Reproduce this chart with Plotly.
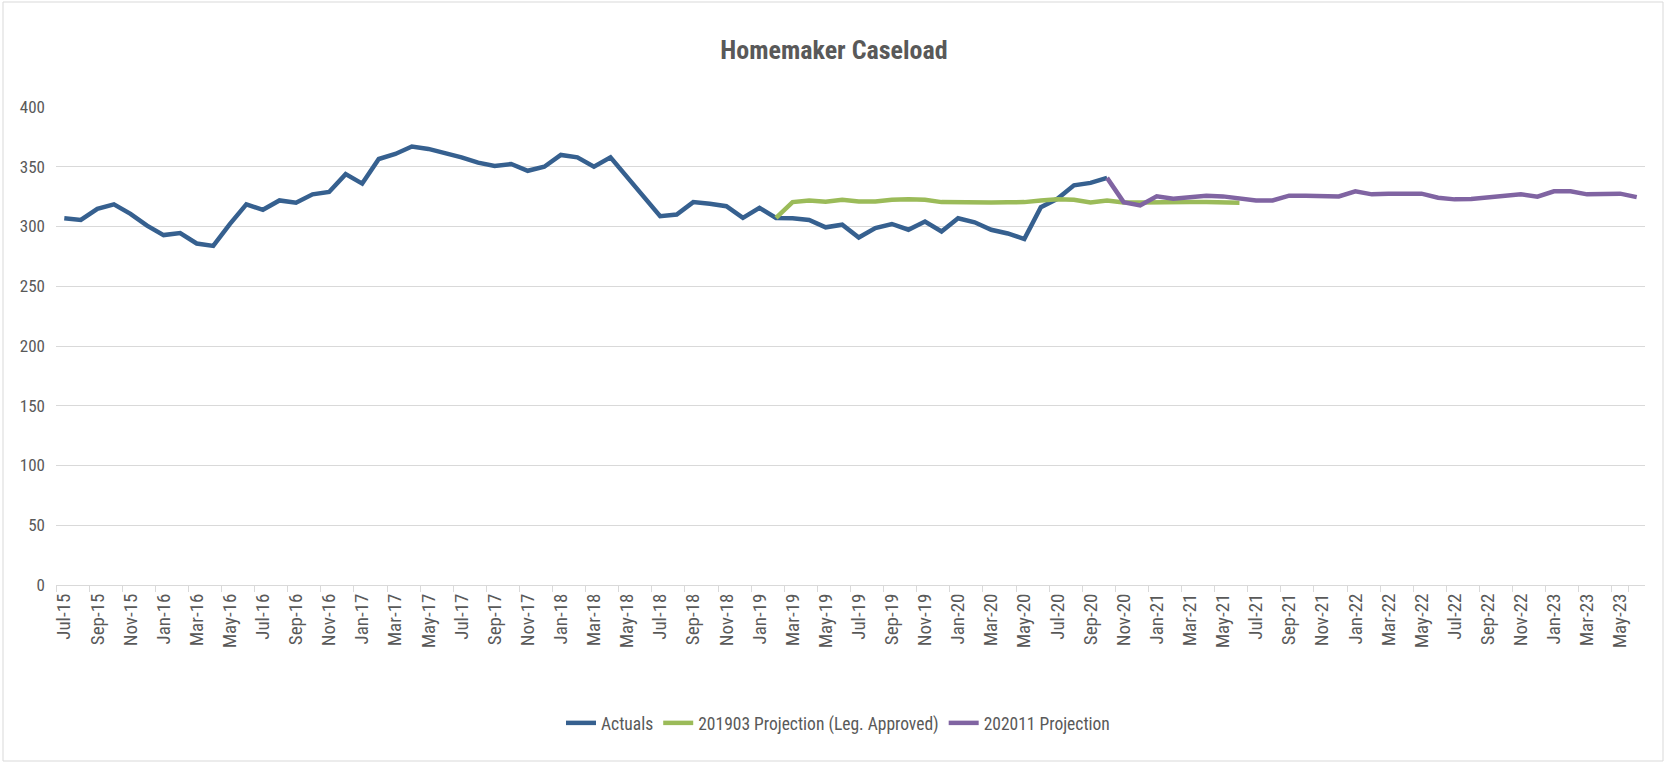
import pandas as pd
import plotly.graph_objects as go

# ---- data ----
months = pd.date_range("2015-07-01", periods=96, freq="MS").strftime("%b-%y").tolist()

actuals = [307, 305.5, 314.8, 318.5, 310.6, 300.7, 292.8, 294.5, 285.8, 283.8,
           302, 318.5, 314, 321.8, 319.9, 326.9, 328.9, 343.8, 335.9, 356.5,
           360.7, 366.9, 364.9, 361.8, 357.9, 353.4, 350.6, 352.3, 346.6, 350,
           359.9, 357.9, 350, 357.9, 341.5, 324.1, 308.6, 310, 320.4, 319,
           317, 307.2, 315.6, 307.2, 307, 305.5, 299.3, 301.5, 290.8, 298.7,
           302.1, 297.3, 304.1, 295.9, 306.9, 303.5, 297.3, 294.2, 289.5, 316.2,
           323.2, 334.5, 336.5, 340.7]

proj_201903 = [307.2, 320.4, 321.8, 320.7, 322.4, 321, 321, 322.4, 322.7, 322.4,
               320.4, 320.1, 320.1, 320.1, 320.3, 320.4, 321.8, 322.7, 322.4, 320.1,
               321.8, 320.1, 320, 320.4, 320.4, 320.4, 320.4, 320.4, 319.9]
proj_201903_start = 43

proj_202011 = [340.7, 320.4, 317.6, 325.2, 323.2, 324.6, 325.8, 325.2, 323.2, 321.8,
               321.8, 325.8, 325.8, 325.8, 325.2, 329.4, 326.9, 327.5, 327.7, 327.5,
               324.1, 322.7, 323, 324.6, 325.8, 326.9, 324.9, 329.4, 329.4, 326.9,
               327.2, 327.5, 324.6]
proj_202011_start = 63

y_ticks = [0, 50, 100, 150, 200, 250, 300, 350, 400]

# ---- layout constants ----
W, H = 1667, 763
ML, MR, MT, MB = 56, 22, 107, 178
FONT = "Liberation Sans Narrow, Arial Narrow, Roboto Condensed, sans-serif"
GRAY = "#595959"
GRID = "#d9d9d9"

fig = go.Figure()
fig.add_trace(go.Scatter(x=months[:len(actuals)], y=actuals, mode="lines",
                         name="Actuals", line=dict(color="#36608F", width=4.5)))
fig.add_trace(go.Scatter(x=months[proj_201903_start:proj_201903_start + len(proj_201903)],
                         y=proj_201903, mode="lines",
                         name="201903 Projection (Leg. Approved)",
                         line=dict(color="#9BBB59", width=4.5)))
fig.add_trace(go.Scatter(x=months[proj_202011_start:proj_202011_start + len(proj_202011)],
                         y=proj_202011, mode="lines",
                         name="202011 Projection",
                         line=dict(color="#8064A2", width=4.5)))

pw = W - ML - MR
ph = H - MT - MB
fig.add_shape(type="rect", xref="paper", yref="paper",
              x0=(3 - ML) / pw, x1=(1663 - ML) / pw,
              y0=-(H - 2 - (H - MB)) / ph, y1=1 + (MT - 2) / ph,
              line=dict(color=GRID, width=1), layer="below")

fig.update_layout(
    width=W, height=H,
    margin=dict(l=ML, r=MR, t=MT, b=MB, autoexpand=False),
    paper_bgcolor="white", plot_bgcolor="white",
    title=dict(text="<b>Homemaker Caseload</b>", x=834 / W, xanchor="center",
               y=1 - 50 / H, yanchor="middle", yref="container",
               font=dict(family=FONT, size=26, color=GRAY)),
    font=dict(family=FONT, color=GRAY),
    showlegend=True,
    legend=dict(orientation="h", x=838 / W, xanchor="center", xref="container",
                y=1 - 723 / H, yanchor="middle", yref="container",
                font=dict(family=FONT, size=17.5, color=GRAY),
                itemwidth=30, tracegroupgap=0),
    xaxis=dict(type="category", categoryorder="array", categoryarray=months,
               range=[-0.5, len(months) - 0.5],
               tickmode="array", tickvals=months[::2], ticktext=months[::2],
               tickangle=-90, tickson="boundaries", ticks="outside", ticklen=6,
               tickcolor=GRID, showline=True, linecolor=GRID, linewidth=1,
               showgrid=False, tickfont=dict(family=FONT, size=19, color=GRAY)),
    yaxis=dict(range=[0, 400], tickmode="array", tickvals=y_ticks,
               showgrid=True, gridcolor=GRID, gridwidth=1, zeroline=False,
               showline=False, ticks="", ticklabelstandoff=10,
               tickfont=dict(family=FONT, size=17, color=GRAY)),
)

fig.write_html("out.html", config={"displayModeBar": False},
               post_script="document.body.style.margin='0';")
